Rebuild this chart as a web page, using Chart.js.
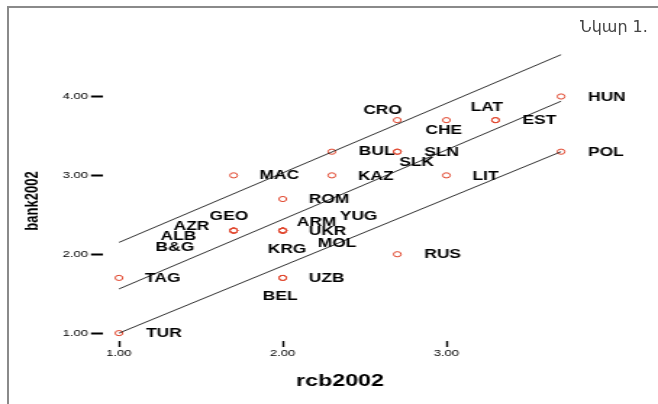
<!DOCTYPE html>
<html>
<head>
<meta charset="utf-8">
<script src="https://cdn.jsdelivr.net/npm/chart.js@4.4.0/dist/chart.umd.min.js"></script>
<style>
  body { margin: 0; background: #fff; }
  #wrap { position: relative; width: 658px; height: 404px; overflow: hidden; background: #fff; }
  #plot { position: absolute; left: 0; top: 0; transform: scaleX(1.4493); transform-origin: 0 0; }
  #frame { position: absolute; left: 7px; top: 6px; width: 700px; height: 450px;
           border-top: 2px solid #8a8a8a; border-left: 2px solid #8a8a8a; }
  #fig { position: absolute; left: 580px; top: 17px; font: 16px "DejaVu Sans", sans-serif; color: #444; }
</style>
</head>
<body>
<div id="wrap">
  <canvas id="plot" width="454" height="404"></canvas>
  <div id="frame"></div>
  <div id="fig">Նկար 1.</div>
</div>
<script>
// the old picture is stretched sideways, so the canvas is drawn narrow and widened by css
var stretch = 658 / 454;

// countries and their scores
var countries = ['ALB', 'ARM', 'AZR', 'BEL', 'B&G', 'BUL', 'CRO', 'CHE', 'EST', 'MAC', 'GEO', 'HUN', 'KAZ', 'KRG',
                 'LAT', 'LIT', 'MOL', 'POL', 'ROM', 'RUS', 'SLK', 'SLN', 'TAG', 'TUR', 'UKR', 'UZB', 'YUG'];
var rcb2002  = [1.7, 2.0, 1.7, 2.0, 1.7, 2.3, 2.7, 3.0, 3.3, 1.7, 1.7, 3.7, 2.3, 2.0,
                3.3, 3.0, 2.0, 3.7, 2.0, 2.7, 2.7, 2.7, 1.0, 1.0, 2.0, 2.0, 2.0];
var bank2002 = [2.3, 2.3, 2.3, 1.7, 2.3, 3.3, 3.7, 3.7, 3.7, 3.0, 2.3, 4.0, 3.0, 2.3,
                3.7, 3.0, 2.3, 3.3, 2.7, 2.0, 3.3, 3.3, 1.7, 1.0, 2.3, 1.7, 2.3];

// fit line and the two band lines
var lineX     = [1.0, 3.7];
var upperLine = [2.15, 4.53];
var fitLine   = [1.56, 3.94];
var lowerLine = [1.0, 3.30];

var xTicks = [1, 2, 3];
var yTicks = [1, 2, 3, 4];

// where each name sits next to its point (screen px, before the sideways stretch)
var labelShift = {
  'ALB': [-73, 6], 'ARM': [14, -8], 'AZR': [-60, -4], 'BEL': [-20, 19], 'B&G': [-78, 17],
  'BUL': [27, 0], 'CRO': [-34, -9], 'CHE': [-21, 11], 'EST': [27, 1], 'MAC': [26, 0],
  'GEO': [-24, -14], 'HUN': [27, 1], 'KAZ': [26, 1], 'KRG': [-15, 19], 'LAT': [-25, -12],
  'LIT': [26, 1], 'MOL': [35, 13], 'POL': [27, 1], 'ROM': [26, 1], 'RUS': [27, 0],
  'SLK': [2, 11], 'SLN': [27, 1], 'TAG': [26, 1], 'TUR': [27, 1], 'UKR': [26, 1],
  'UZB': [26, 1], 'YUG': [57, -14]
};

function pairs(xs, ys) {
  return xs.map(function (x, i) { return { x: x, y: ys[i] }; });
}

function lineSet(ys) {
  return {
    type: 'line',
    data: pairs(lineX, ys),
    borderColor: '#1a1a1a',
    borderWidth: 0.9,
    pointRadius: 0,
    fill: false,
    clip: false
  };
}

var labelPlugin = {
  id: 'pointLabels',
  afterDatasetsDraw: function (chart) {
    var ctx = chart.ctx;
    var meta = chart.getDatasetMeta(3);
    ctx.save();
    ctx.font = 'bold 12px "Liberation Sans", Arial, sans-serif';
    ctx.fillStyle = '#000';
    ctx.textBaseline = 'middle';
    ctx.textAlign = 'left';
    meta.data.forEach(function (pt, i) {
      var off = labelShift[countries[i]];
      ctx.fillText(countries[i], pt.x + off[0] / stretch, pt.y + off[1]);
    });
    ctx.restore();
  }
};

var tickFont = { family: '"Liberation Sans", Arial, sans-serif', size: 9 };

var ctx = document.getElementById('plot');
var myChart = new Chart(ctx, {
  type: 'scatter',
  data: {
    datasets: [
      lineSet(upperLine),
      lineSet(fitLine),
      lineSet(lowerLine),
      {
        type: 'scatter',
        label: 'bank2002',
        data: pairs(rcb2002, bank2002),
        pointRadius: 2.6,
        pointBorderWidth: 1,
        borderColor: '#e0452c',
        backgroundColor: 'rgba(255,255,255,0)',
        clip: false
      }
    ]
  },
  options: {
    responsive: false,
    animation: false,
    devicePixelRatio: 1,
    layout: { padding: { top: 61, right: 55.6, bottom: 0, left: 0 } },
    plugins: {
      legend: { display: false },
      tooltip: { enabled: false }
    },
    scales: {
      x: {
        type: 'linear',
        min: 0.9,
        max: 3.8,
        afterBuildTicks: function (s) { s.ticks = xTicks.map(function (v) { return { value: v }; }); },
        afterFit: function (s) { s.height = 63; },
        border: { display: false },
        grid: { drawOnChartArea: false, tickLength: 6, tickWidth: 1.4, tickColor: '#000' },
        ticks: {
          color: '#000', font: tickFont, padding: 1, maxRotation: 0,
          callback: function (v) { return Number(v).toFixed(2); }
        },
        title: {
          display: true, text: 'rcb2002', color: '#000',
          font: { family: '"Liberation Sans", Arial, sans-serif', size: 16, weight: 'bold' },
          padding: { top: 0, bottom: 13 }
        }
      },
      y: {
        type: 'linear',
        min: 0.9,
        max: 4.45,
        afterBuildTicks: function (s) { s.ticks = yTicks.map(function (v) { return { value: v }; }); },
        afterFit: function (s) { s.width = 70.8; },
        border: { display: false },
        grid: { drawOnChartArea: false, tickLength: 8, tickWidth: 2, tickColor: '#000' },
        ticks: {
          color: '#000', font: tickFont, padding: 2,
          callback: function (v) { return Number(v).toFixed(2); }
        },
        title: {
          display: true, text: 'bank2002', color: '#000',
          font: { family: '"Liberation Sans", Arial, sans-serif', size: 13, weight: 'bold' },
          padding: { top: 15, bottom: 0 }
        }
      }
    }
  },
  plugins: [labelPlugin]
});
</script>
</body>
</html>
